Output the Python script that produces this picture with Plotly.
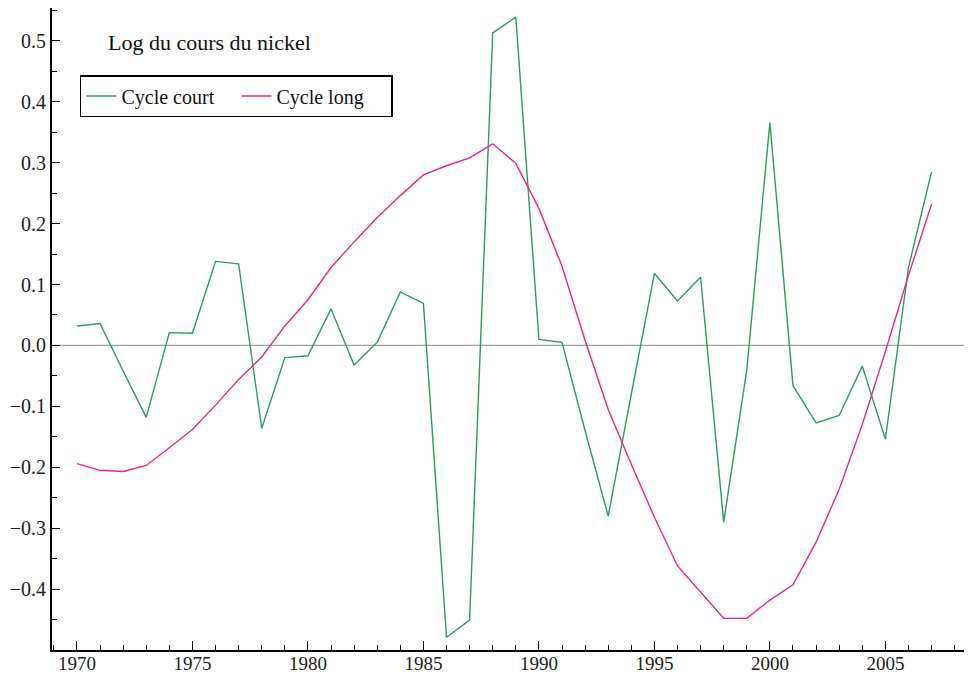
import plotly.graph_objects as go

years = list(range(1970, 2008))
cycle_court = [0.032, 0.036, -0.042, -0.118, 0.021, 0.020, 0.138, 0.134, -0.136, -0.020,
               -0.017, 0.060, -0.032, 0.005, 0.088, 0.069, -0.479, -0.451, 0.513, 0.539,
               0.010, 0.005, -0.140, -0.280, -0.080, 0.118, 0.073, 0.112, -0.290, -0.040,
               0.366, -0.066, -0.127, -0.115, -0.034, -0.154, 0.128, 0.285]
cycle_long = [-0.194, -0.205, -0.207, -0.197, -0.168, -0.138, -0.098, -0.056, -0.019, 0.032,
              0.075, 0.128, 0.170, 0.210, 0.246, 0.280, 0.295, 0.308, 0.331, 0.299,
              0.225, 0.130, 0.008, -0.105, -0.195, -0.282, -0.362, -0.405, -0.448, -0.448,
              -0.418, -0.393, -0.323, -0.236, -0.130, -0.010, 0.115, 0.232]
y_ticks = [-0.4, -0.3, -0.2, -0.1, 0.0, 0.1, 0.2, 0.3, 0.4, 0.5]
x_ticks = [1970, 1975, 1980, 1985, 1990, 1995, 2000, 2005]

font_family = "Liberation Serif"

fig = go.Figure()
fig.add_trace(go.Scatter(x=years, y=cycle_court, mode="lines", name="Cycle court",
                         line=dict(color="#2a9d60", width=1.4)))
fig.add_trace(go.Scatter(x=years, y=cycle_long, mode="lines", name="Cycle long",
                         line=dict(color="#f0228a", width=1.4)))

fig.add_hline(y=0, line=dict(color="#a0a0a0", width=1.2), layer="below")

fig.add_annotation(text="Log du cours du nickel", xref="paper", yref="paper",
                   x=0.059, y=0.946, xanchor="left", yanchor="middle", showarrow=False,
                   font=dict(family=font_family, size=22, color="#111"))

# page body has an 8px margin, so the figure is sized to end at the window edges
fig.update_layout(
    width=964, height=668,
    margin=dict(l=44, r=0, t=0, b=26, autoexpand=False),
    paper_bgcolor="white", plot_bgcolor="white",
    font=dict(family=font_family, size=20, color="#222"),
    showlegend=True,
    legend=dict(orientation="h", x=0.0304, y=0.8956, xanchor="left", yanchor="top",
                bordercolor="black", borderwidth=1.5, bgcolor="white",
                font=dict(family=font_family, size=20, color="#111"),
                itemwidth=30, entrywidth=110, tracegroupgap=0),
)
fig.update_xaxes(range=[1968.92, 2008.75], tickvals=x_ticks, ticks="inside", ticklen=9,
                 tickwidth=1.3, tickcolor="black", showgrid=False, zeroline=False,
                 showline=True, linecolor="black", linewidth=2, automargin=False,
                 ticklabelstandoff=-5,
                 minor=dict(dtick=1, tick0=1970, ticks="inside", ticklen=5, tickwidth=1.2,
                            tickcolor="black", showgrid=False),
                 tickfont=dict(family=font_family, size=19, color="#222"))
fig.update_yaxes(range=[-0.5, 0.554], tickvals=y_ticks, tickformat=".1f", ticks="inside",
                 ticklen=8, tickwidth=1.3, tickcolor="black", showgrid=False, zeroline=False,
                 showline=True, linecolor="black", linewidth=2, automargin=False,
                 minor=dict(dtick=0.05, tick0=0, ticks="inside", ticklen=5, tickwidth=1.2,
                            tickcolor="black", showgrid=False),
                 tickfont=dict(family=font_family, size=20, color="#222"))

fig.write_html("out.html")
